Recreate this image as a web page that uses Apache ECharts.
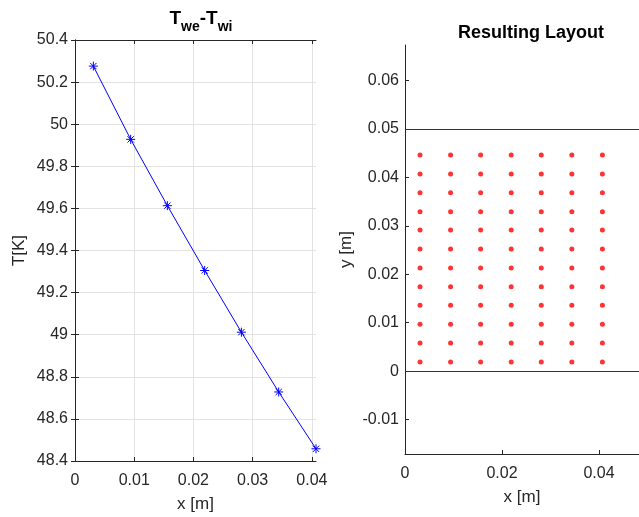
<!DOCTYPE html>
<html>
<head>
<meta charset="utf-8">
<script src="https://cdn.jsdelivr.net/npm/echarts@6/dist/echarts.min.js"></script>
<style>
  html, body { margin: 0; padding: 0; background: #fff; }
  #main { width: 639px; height: 517px; }
</style>
</head>
<body>
<div id="main"></div>
<script>
// left plot: T_we - T_wi along x
const posX = [0.0031, 0.0094, 0.0156, 0.0219, 0.0281, 0.0344, 0.0407];
const deltaT = [50.276, 49.928, 49.613, 49.305, 49.012, 48.728, 48.458];

// right plot: resulting layout (columns x rows)
const layoutX = [0.0031, 0.0094, 0.0156, 0.0219, 0.0281, 0.0344, 0.0407];
const layoutY = [0.0019, 0.0058, 0.0097, 0.0136, 0.0174, 0.0213, 0.0252, 0.0291, 0.0329, 0.0368, 0.0407, 0.0446];
const wallLines = [0, 0.05];

const leftXTicks = [0, 0.01, 0.02, 0.03, 0.04];
const rightXTicks = [0, 0.02, 0.04];
const rightYTicks = [-0.01, 0, 0.01, 0.02, 0.03, 0.04, 0.05, 0.06];

const FONT = 'Liberation Sans, Arial, sans-serif';
const AX = '#262626';

const lineData = posX.map((x, i) => [x, deltaT[i]]);
const dots = [];
layoutX.forEach(x => layoutY.forEach(y => dots.push([x, y])));

const asterisk = 'path://M5 0 L5 10 M0 5 L10 5 M1.5 1.5 L8.5 8.5 M8.5 1.5 L1.5 8.5';

const lbl = { color: AX, fontSize: 16, fontFamily: FONT };
const nameStyle = { color: AX, fontSize: 17, fontFamily: FONT };

let option = {
    animation: false,
    backgroundColor: '#fff',
    title: [
        {
            text: '{a|T}{b|we}{a|-T}{b|wi}',
            left: 196, top: 4, textAlign: 'center',
            textStyle: {
                rich: {
                    a: { fontSize: 19, fontWeight: 'bold', fontFamily: FONT, color: '#000', lineHeight: 22, verticalAlign: 'top' },
                    b: { fontSize: 14, fontWeight: 'bold', fontFamily: FONT, color: '#000', lineHeight: 14, padding: [11, 0, 0, 0], verticalAlign: 'top' }
                }
            }
        },
        {
            text: 'Resulting Layout',
            left: 526, top: 19, textAlign: 'center',
            textStyle: { fontSize: 18, fontWeight: 'bold', fontFamily: FONT, color: '#000' }
        }
    ],
    grid: [
        { left: 75, top: 40, width: 241, height: 421, outerBoundsMode: 'none' },
        { left: 405, top: 45, width: 234, height: 409, outerBoundsMode: 'none' }
    ],
    xAxis: [
        {
            gridIndex: 0, type: 'value', min: 0, max: 0.0407, interval: 0.01,
            name: 'x [m]', nameLocation: 'middle', nameGap: 35, nameMoveOverlap: false, nameTextStyle: nameStyle,
            axisLine: { lineStyle: { color: AX } },
            axisTick: { inside: true, length: 4, lineStyle: { color: AX }, customValues: leftXTicks },
            axisLabel: Object.assign({ margin: 12, customValues: leftXTicks }, lbl),
            splitLine: { show: true, lineStyle: { color: '#e3e3e3' } }
        },
        {
            gridIndex: 0, type: 'value', position: 'top', min: 0, max: 0.0407, interval: 0.01,
            axisLine: { lineStyle: { color: AX } },
            axisTick: { inside: true, length: 4, lineStyle: { color: AX }, customValues: leftXTicks },
            axisLabel: { show: false }, splitLine: { show: false }
        },
        {
            gridIndex: 1, type: 'value', min: 0, max: 0.04825,
            name: 'x [m]', nameLocation: 'middle', nameGap: 35, nameMoveOverlap: false, nameTextStyle: nameStyle,
            axisLine: { onZero: false, lineStyle: { color: AX } },
            axisTick: { inside: true, length: 4, lineStyle: { color: AX }, customValues: rightXTicks },
            axisLabel: Object.assign({ margin: 12, customValues: rightXTicks }, lbl),
            splitLine: { show: false }
        }
    ],
    yAxis: [
        {
            gridIndex: 0, type: 'value', min: 48.4, max: 50.4, interval: 0.2,
            name: 'T[K]', nameLocation: 'middle', nameGap: 47, nameMoveOverlap: false, nameTextStyle: nameStyle,
            axisLine: { show: true, lineStyle: { color: AX } },
            axisTick: { show: true, inside: true, length: 4, lineStyle: { color: AX } },
            axisLabel: Object.assign({ margin: 7 }, lbl),
            splitLine: { show: true, lineStyle: { color: '#e3e3e3' } }
        },
        {
            gridIndex: 0, type: 'value', position: 'right', min: 48.4, max: 50.4, interval: 0.2,
            axisLine: { show: true, lineStyle: { color: AX } },
            axisTick: { show: true, inside: true, length: 4, lineStyle: { color: AX } },
            axisLabel: { show: false }, splitLine: { show: false }
        },
        {
            gridIndex: 1, type: 'value', min: -0.0171, max: 0.0673,
            name: 'y [m]', nameLocation: 'middle', nameGap: 50, nameMoveOverlap: false, nameTextStyle: nameStyle,
            axisLine: { show: true, onZero: false, lineStyle: { color: AX } },
            axisTick: { show: true, inside: true, length: 4, lineStyle: { color: AX }, customValues: rightYTicks },
            axisLabel: Object.assign({ margin: 6, customValues: rightYTicks }, lbl),
            splitLine: { show: false }
        }
    ],
    series: [
        {
            type: 'line', xAxisIndex: 0, yAxisIndex: 0,
            data: lineData,
            symbol: asterisk, symbolSize: 9,
            itemStyle: { color: 'none', borderColor: '#0000ff', borderWidth: 1 },
            lineStyle: { color: '#0000ff', width: 1 }
        },
        {
            type: 'scatter', xAxisIndex: 2, yAxisIndex: 2,
            data: dots, symbolSize: 5,
            itemStyle: { color: '#ff0000' },
            markLine: {
                silent: true, symbol: 'none', label: { show: false },
                lineStyle: { color: '#333', width: 1, type: 'solid' },
                data: wallLines.map(v => ({ yAxis: v }))
            }
        }
    ]
};

let myChart = echarts.init(document.getElementById('main'));
myChart.setOption(option);
</script>
</body>
</html>
